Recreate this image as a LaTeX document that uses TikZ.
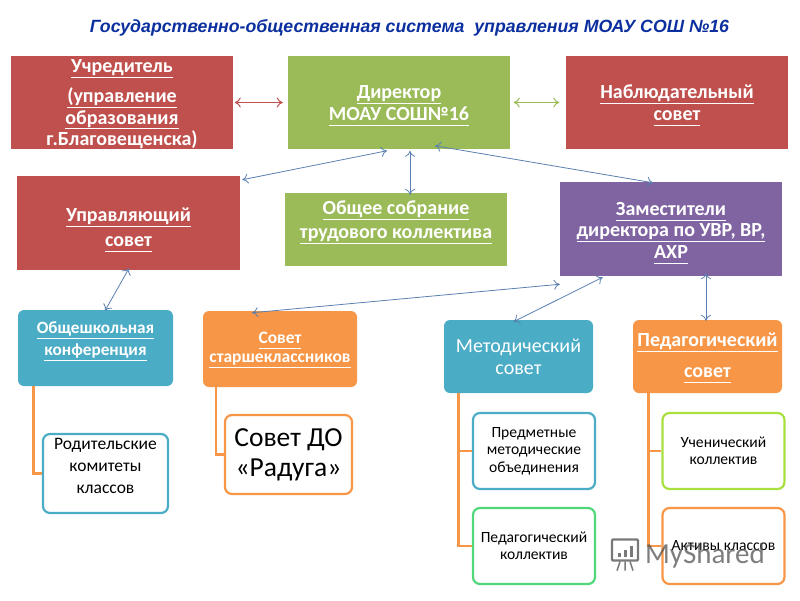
\documentclass[tikz,border=0pt]{standalone}
\usepackage{fontspec}
\setmainfont{Carlito}
\newfontfamily\titlefont{Liberation Sans}
\usetikzlibrary{arrows,arrows.meta,positioning,shadows}
\definecolor{redbox}{HTML}{C0504D}
\definecolor{greenbox}{HTML}{9BBB59}
\definecolor{purplebox}{HTML}{8064A2}
\definecolor{tealbox}{HTML}{4BACC6}
\definecolor{orangebox}{HTML}{F79646}
\definecolor{greenline}{HTML}{50D77A}
\definecolor{limeline}{HTML}{A8E040}
\definecolor{bluearrow}{HTML}{5B80B0}
\definecolor{titleblue}{HTML}{0B2F9F}
\newcommand{\ulb}[1]{\underline{\vphantom{Ду}#1}}
\newcommand{\topgap}[1]{\mbox{\vphantom{Ду}}\\[#1]}
\tikzset{every picture/.style={line width=0.5pt}}
\tikzstyle{flat}=[align=center,inner sep=0pt,text=white,font=\fontsize{20}{21.5}\selectfont\bfseries]
\tikzstyle{top}=[flat,draw=white,line width=2.5pt,drop shadow={shadow xshift=0.8pt,shadow yshift=-1.5pt,opacity=0.25},minimum width=225pt,minimum height=96pt]
\tikzstyle{head}=[flat,rounded corners=6pt]
\tikzstyle{sub}=[align=center,inner sep=0pt,fill=white,line width=2.2pt,rounded corners=7pt,minimum width=122pt,minimum height=76pt,font=\fontsize{15.6}{17.5}\selectfont]
\tikzstyle{stem}=[orangebox,line width=2.2pt]
\tikzstyle{link}=[{To[open,length=6pt,width=10pt]}-{To[open,length=6pt,width=10pt]},bluearrow,line width=0.8pt]
\begin{document}
\begin{tikzpicture}[x=1pt,y=-1pt]
\useasboundingbox (0,0) rectangle (800,600);
\node (title) at (409.5,28) {\titlefont\fontsize{17.7}{20}\selectfont\bfseries\itshape\color{titleblue}Государственно-общественная система\ \ управления МОАУ СОШ №16};
% top row
\node[top,fill=redbox,inner ysep=-5pt] (founder) at (122,102.5) {\topgap{-16.5pt}\ulb{Учредитель}\\[9pt]\ulb{(управление}\\\ulb{образования}\\\ulb{г.Благовещенска)}};
\node[top,fill=greenbox] (director) at (399,102.5) {\topgap{-15.5pt}\ulb{Директор}\\\ulb{МОАУ СОШ№16}};
\node[top,fill=redbox] (observers) at (677,102.5) {\topgap{-15.5pt}\ulb{Наблюдательный}\\\ulb{совет}};
% second row
\node[flat,fill=redbox,minimum width=223pt,minimum height=94pt,font=\fontsize{20}{25}\selectfont\bfseries] (council) at (128.5,223) {\topgap{-10pt}\ulb{Управляющий}\\\ulb{совет}};
\node[flat,fill=greenbox,minimum width=222pt,minimum height=73pt,font=\fontsize{20}{24}\selectfont\bfseries] (staff) at (396,229.5) {\ulb{Общее собрание}\\\ulb{трудового коллектива}\\[-5pt]};
\node[flat,fill=purplebox,minimum width=222pt,minimum height=94pt] (deputies) at (671,229) {\topgap{-13.5pt}\ulb{Заместители}\\\ulb{директора по УВР, ВР,}\\\ulb{АХР}};
% heads
\node[head,fill=tealbox,minimum width=155pt,minimum height=76pt,font=\fontsize{17.2}{22}\selectfont\bfseries] (conf) at (95.5,348) {\ulb{Общешкольная}\\\ulb{конференция}\\[-4pt]};
\node[head,fill=orangebox,minimum width=154pt,minimum height=76pt,font=\fontsize{17.5}{19}\selectfont\bfseries] (seniors) at (280,349) {\ulb{Совет}\\\ulb{старшеклассников}\\[-16pt]};
\node[head,fill=tealbox,minimum width=149pt,minimum height=73pt,font=\fontsize{20}{22}\selectfont] (method) at (518.5,356.5) {Методический\\совет};
\node[head,fill=orangebox,minimum width=149pt,minimum height=73pt,font=\fontsize{20}{31}\selectfont\bfseries] (teachers) at (707.5,356.5) {\topgap{-27pt}\ulb{Педагогический}\\\ulb{совет}};
% children
\node[sub,draw=tealbox,minimum width=125pt,minimum height=79pt,font=\fontsize{17.5}{22}\selectfont] (parents) at (105.5,473.5) {Родительские\\комитеты\\классов\\[-7pt]};
\node[sub,draw=orangebox,minimum width=127pt,minimum height=79pt,font=\fontsize{27.5}{30}\selectfont] (rainbow) at (288.5,454.5) {Совет ДО\\«Радуга»};
\node[sub,draw=tealbox] (subjects) at (534,451) {Предметные\\методические\\объединения};
\node[sub,draw=greenline] (collective) at (534,546) {Педагогический\\коллектив};
\node[sub,draw=limeline] (pupils) at (723.5,451) {Ученический\\коллектив};
\node[sub,draw=orangebox] (active) at (723.5,546) {Активы классов};
% stems
\draw[stem] ([xshift=-62pt]conf.south) |- (parents.west);
\draw[stem] ([xshift=-64pt]seniors.south) |- (rainbow.west);
\draw[stem] ([xshift=-60pt]method.south) |- (subjects.west);
\draw[stem] ([xshift=-60pt]method.south) |- (collective.west);
\draw[stem] ([xshift=-59pt]teachers.south) |- (pupils.west);
\draw[stem] ([xshift=-59pt]teachers.south) |- (active.west);
% arrows
\path[link]
(founder.east) edge[redbox,line width=1pt,shorten <=-1pt,shorten >=2.5pt] (director.west)
(director.east) edge[greenbox,line width=1pt,shorten <=1pt,shorten >=4pt] (observers.west)
([xshift=-12pt,yshift=1pt]director.south) edge ([xshift=2pt,yshift=-4pt]council.north east)
([xshift=11pt,yshift=1pt]director.south) edge ([xshift=14pt,yshift=-2pt]staff.north)
([xshift=36pt,yshift=6pt]director.south) edge ([xshift=-18pt,yshift=-1pt]deputies.north)
([xshift=9.5pt,yshift=-1pt]conf.north) edge ([xshift=0.5pt,yshift=2pt]council.south)
([xshift=-28pt,yshift=-2pt]seniors.north) edge ([yshift=-8pt]deputies.south west)
([xshift=-5pt,yshift=-2pt]method.north) edge ([xshift=43pt,yshift=-1pt]deputies.south west)
([xshift=-1.5pt,yshift=-1pt]teachers.north) edge ([xshift=35pt,yshift=3pt]deputies.south);
% watermark
\node[inner sep=0pt,opacity=0.72,text=black!70,font=\fontsize{29}{29}\selectfont] (mark) at (705,556) {MyShared};
\node[draw=black!70,draw opacity=0.75,line width=2.2pt,rounded corners=1pt,minimum width=26pt,minimum height=21pt,inner sep=0pt] (board) at (625,550) {};
\foreach \bx/\bh in {-6/4,0/7,6/11}
\fill[black!70,opacity=0.75] ([xshift=\bx pt-1.5pt,yshift=-7pt]board.center) rectangle ++(3,\bh*-1);
\draw[black!70,opacity=0.75,line width=1.5pt] ([xshift=-5pt]board.south) -- ++(-3,9) (board.south) -- ++(0,9) ([xshift=5pt]board.south) -- ++(3,9);
\end{tikzpicture}
\end{document}
